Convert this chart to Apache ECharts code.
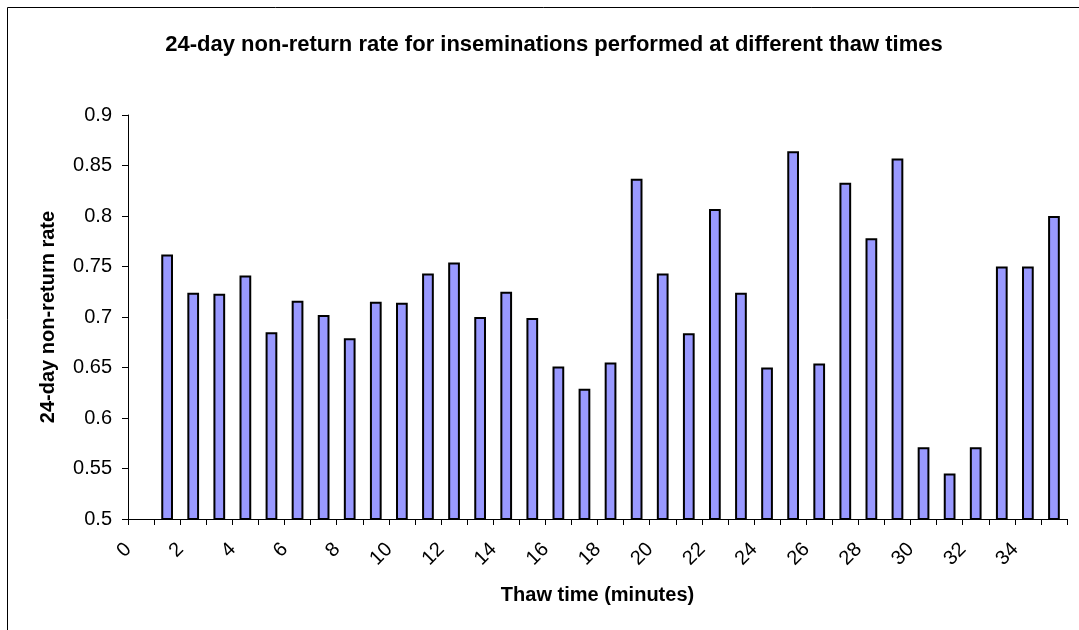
<!DOCTYPE html>
<html>
<head>
<meta charset="utf-8">
<script src="https://cdn.jsdelivr.net/npm/echarts@6/dist/echarts.min.js"></script>
<style>
  html, body { margin: 0; padding: 0; background: #fff; }
  #chart { width: 1079px; height: 630px; }
</style>
</head>
<body>
<div id="chart"></div>
<script>
// thaw time categories (minutes)
const thawTimes = ['0', '1', '2', '3', '4', '5', '6', '7', '8', '9', '10', '11', '12', '13', '14', '15', '16', '17',
  '18', '19', '20', '21', '22', '23', '24', '25', '26', '27', '28', '29', '30', '31', '32', '33', '34', '35']

// 24-day non-return rate per thaw time (no value at 0)
const nonReturnRate = ['-', 0.762, 0.724, 0.723, 0.741, 0.685, 0.716, 0.702, 0.679, 0.715, 0.714, 0.743, 0.754,
  0.700, 0.725, 0.699, 0.651, 0.629, 0.655, 0.837, 0.743, 0.684, 0.807, 0.724, 0.650, 0.864, 0.654,
  0.833, 0.778, 0.857, 0.571, 0.545, 0.571, 0.750, 0.750, 0.800]

const font = 'Liberation Sans, Arial, sans-serif'

const option = {
  backgroundColor: '#fff',
  animation: false,
  textStyle: { fontFamily: font },
  title: {
    text: '24-day non-return rate for inseminations performed at different thaw times',
    left: 549,
    textAlign: 'center',
    top: 29,
    textStyle: { fontSize: 22, fontWeight: 'bold', color: '#000', fontFamily: font }
  },
  graphic: [
    {
      type: 'rect',
      shape: { x: 7.5, y: 7.5, width: 1200, height: 800 },
      style: { fill: 'none', stroke: '#000', lineWidth: 1 },
      silent: true
    }
  ],
  grid: { left: 128, right: 12, top: 115, bottom: 111 },
  xAxis: {
    type: 'category',
    data: thawTimes,
    name: 'Thaw time (minutes)',
    nameLocation: 'middle',
    nameGap: 66,
    nameTextStyle: { fontSize: 20, fontWeight: 'bold', color: '#000', fontFamily: font },
    axisLine: { lineStyle: { color: '#000', width: 1 } },
    axisTick: { show: true, interval: 0, length: 6, lineStyle: { color: '#000' } },
    // labels sit at the tick marks in the original, hence the tall bottom-aligned line box
    axisLabel: {
      interval: 1, rotate: 45, fontSize: 20, color: '#000',
      margin: 40, verticalAlign: 'bottom', lineHeight: 36
    },
    splitLine: { show: false }
  },
  yAxis: {
    type: 'value',
    min: 0.5,
    max: 0.9,
    interval: 0.05,
    name: '24-day non-return rate',
    nameLocation: 'middle',
    nameGap: 70,
    nameRotate: 90,
    nameTextStyle: { fontSize: 20, fontWeight: 'bold', color: '#000', fontFamily: font },
    axisLine: { show: true, lineStyle: { color: '#000', width: 1 } },
    axisTick: { show: true, length: 6, lineStyle: { color: '#000' } },
    axisLabel: { fontSize: 20, color: '#000', margin: 16 },
    splitLine: { show: false }
  },
  series: [
    {
      name: '24-day non-return rate',
      type: 'bar',
      data: nonReturnRate,
      barWidth: '45%',
      itemStyle: { color: '#9999FF', borderColor: '#000', borderWidth: 2 }
    }
  ]
}

const chart = echarts.init(document.getElementById('chart'))
chart.setOption(option)
</script>
</body>
</html>
